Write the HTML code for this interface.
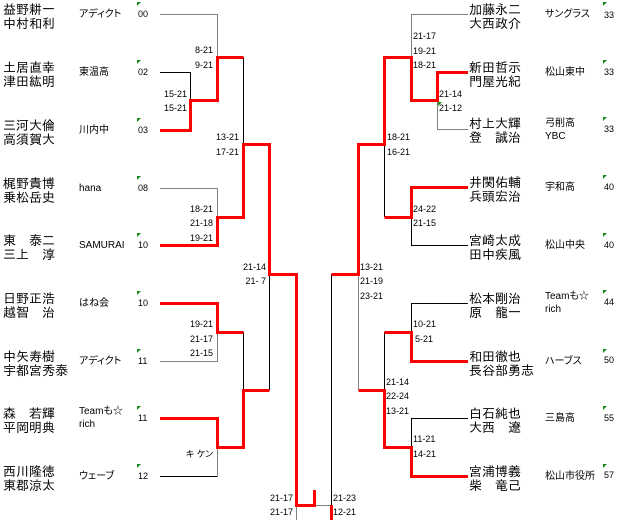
<!DOCTYPE html>
<html><head><meta charset="utf-8">
<style>
html,body{margin:0;padding:0;background:#fff;}
#w{position:relative;width:620px;height:520px;overflow:hidden;background:#fff;font-family:"Liberation Sans","Noto Sans CJK JP",sans-serif;color:#000;}
svg{position:absolute;left:0;top:0;}
.n{position:absolute;font-size:13px;line-height:14px;white-space:nowrap;font-family:"Liberation Sans","IPAGothic","Noto Sans CJK JP",sans-serif;}
.tm{position:absolute;font-size:10px;line-height:13px;white-space:nowrap;font-feature-settings:"palt";}
.s{position:absolute;font-size:9px;line-height:10px;height:10px;white-space:nowrap;font-feature-settings:"palt";}
.r{text-align:right;}
</style></head><body><div id="w">
<svg width="620" height="520" viewBox="0 0 620 520">
<g fill="none" stroke="#808080" stroke-width="1" shape-rendering="crispEdges">
<path d="M160 14.5H217.5V57"/>
<path d="M160 188.5H217.5V217"/>
<path d="M160 361.5H217.5V332"/>
<path d="M217.5 447V476"/>
<path d="M296.5 505V520"/>
<path d="M314 505.5H331"/>
<path d="M468 14.5H411.5V57"/>
<path d="M468 129.5H437.5V100"/>
<path d="M358.5 274V390"/>
</g>
<g fill="none" stroke="#000" stroke-width="1" shape-rendering="crispEdges">
<path d="M160 72.5H190.5V100"/>
<path d="M243.5 57V144"/>
<path d="M269.5 274V390"/>
<path d="M243.5 332V390"/>
<path d="M160 476.5H217.5"/>
<path d="M331.5 274V505"/>
<path d="M384.5 144V217"/>
<path d="M468 245.5H411.5V217"/>
<path d="M468 303.5H411.5V332"/>
<path d="M384.5 332V390"/>
<path d="M468 418.5H411.5V447"/>
</g>
<g fill="none" stroke="#ff0000" stroke-width="3" stroke-linejoin="miter" shape-rendering="crispEdges">
<path d="M160 130.5H190.5V100.5H217.5V57.5H243.5"/>
<path d="M160 245.5H217.5V217.5H243.5V144.5H269.5V274.5H296.5V505.5H314.5V490"/>
<path d="M160 303.5H217.5V332.5H243.5"/>
<path d="M160 418.5H217.5V447.5H243.5V390.5H269.5"/>
<path d="M331.5 505V520"/>
<path d="M468 72.5H437.5V100.5H411.5V57.5H384.5V144.5H358.5V274.5H331.5"/>
<path d="M468 187.5H411.5V217.5H384.5"/>
<path d="M468 361.5H411.5V332.5H384.5"/>
<path d="M468 476.5H411.5V447.5H384.5V390.5H358.5"/>
</g>
<g fill="#1a8a1a">
<polygon points="137,2 141,2 137,6"/>
<polygon points="137,60 141,60 137,64"/>
<polygon points="137,118 141,118 137,122"/>
<polygon points="137,176 141,176 137,180"/>
<polygon points="137,233 141,233 137,237"/>
<polygon points="137,291 141,291 137,295"/>
<polygon points="137,349 141,349 137,353"/>
<polygon points="137,406 141,406 137,410"/>
<polygon points="137,464 141,464 137,468"/>
<polygon points="603,2 607,2 603,6"/>
<polygon points="603,60 607,60 603,64"/>
<polygon points="603,117 607,117 603,121"/>
<polygon points="603,175 607,175 603,179"/>
<polygon points="603,233 607,233 603,237"/>
<polygon points="603,290 607,290 603,294"/>
<polygon points="603,349 607,349 603,353"/>
<polygon points="603,406 607,406 603,410"/>
<polygon points="603,464 607,464 603,468"/>
<polygon points="438,102 442,102 438,106"/>
</g>
</svg>

<!-- Left names -->
<div class="n" style="left:3px;top:2.5px">益野耕一<br>中村和利</div>
<div class="n" style="left:3px;top:60.5px">土居直幸<br>津田紘明</div>
<div class="n" style="left:3px;top:118.5px">三河大倫<br>高須賀大</div>
<div class="n" style="left:3px;top:176.5px">梶野貴博<br>乗松岳史</div>
<div class="n" style="left:3px;top:233.5px">東　泰二<br>三上　淳</div>
<div class="n" style="left:3px;top:291.5px">日野正浩<br>越智　治</div>
<div class="n" style="left:3px;top:349.5px">中矢寿樹<br>宇都宮秀泰</div>
<div class="n" style="left:3px;top:406.5px">森　若輝<br>平岡明典</div>
<div class="n" style="left:3px;top:464.5px">西川隆徳<br>東郡涼太</div>

<!-- Left teams -->
<div class="tm" style="left:79px;top:7.5px">アディクト</div>
<div class="tm" style="left:79px;top:65.5px">東温高</div>
<div class="tm" style="left:79px;top:123.5px">川内中</div>
<div class="tm" style="left:79px;top:181.5px">hana</div>
<div class="tm" style="left:79px;top:238.5px">SAMURAI</div>
<div class="tm" style="left:79px;top:296.5px">はね会</div>
<div class="tm" style="left:79px;top:354.5px">アディクト</div>
<div class="tm" style="left:79px;top:404.5px">Teamも☆<br>rich</div>
<div class="tm" style="left:79px;top:469.5px">ウェーブ</div>

<!-- Left numbers -->
<div class="s" style="left:138px;top:9px">00</div>
<div class="s" style="left:138px;top:67px">02</div>
<div class="s" style="left:138px;top:125px">03</div>
<div class="s" style="left:138px;top:183px">08</div>
<div class="s" style="left:138px;top:240px">10</div>
<div class="s" style="left:138px;top:298px">10</div>
<div class="s" style="left:138px;top:356px">11</div>
<div class="s" style="left:138px;top:413px">11</div>
<div class="s" style="left:138px;top:471px">12</div>

<!-- Right names -->
<div class="n" style="left:469px;top:2.5px">加藤永二<br>大西政介</div>
<div class="n" style="left:469px;top:60.5px">新田哲示<br>門屋光紀</div>
<div class="n" style="left:469px;top:116.5px">村上大輝<br>登　誠治</div>
<div class="n" style="left:469px;top:175.5px">井関佑輔<br>兵頭宏治</div>
<div class="n" style="left:469px;top:233.5px">宮崎太成<br>田中疾風</div>
<div class="n" style="left:469px;top:291.5px">松本剛治<br>原　龍一</div>
<div class="n" style="left:469px;top:349.5px">和田徹也<br>長谷部勇志</div>
<div class="n" style="left:469px;top:406.5px">白石純也<br>大西　遼</div>
<div class="n" style="left:469px;top:464.5px">宮浦博義<br>柴　竜己</div>

<!-- Right teams -->
<div class="tm" style="left:545px;top:7.5px">サングラス</div>
<div class="tm" style="left:545px;top:65.5px">松山東中</div>
<div class="tm" style="left:545px;top:116.5px">弓削高<br>YBC</div>
<div class="tm" style="left:545px;top:180.5px">宇和高</div>
<div class="tm" style="left:545px;top:238.5px">松山中央</div>
<div class="tm" style="left:545px;top:289.5px">Teamも☆<br>rich</div>
<div class="tm" style="left:545px;top:354.5px">ハーブス</div>
<div class="tm" style="left:545px;top:411.5px">三島高</div>
<div class="tm" style="left:545px;top:469.5px">松山市役所</div>

<!-- Right numbers -->
<div class="s" style="left:604px;top:10px">33</div>
<div class="s" style="left:604px;top:67px">33</div>
<div class="s" style="left:604px;top:124px">33</div>
<div class="s" style="left:604px;top:182px">40</div>
<div class="s" style="left:604px;top:240px">40</div>
<div class="s" style="left:604px;top:297px">44</div>
<div class="s" style="left:604px;top:355px">50</div>
<div class="s" style="left:604px;top:413px">55</div>
<div class="s" style="left:604px;top:470px">57</div>

<!-- Left scores (right aligned) -->
<div class="s r" style="right:407px;top:45px">8-21</div>
<div class="s r" style="right:407px;top:60px">9-21</div>
<div class="s r" style="right:433px;top:89px">15-21</div>
<div class="s r" style="right:433px;top:103px">15-21</div>
<div class="s r" style="right:381px;top:132px">13-21</div>
<div class="s r" style="right:381px;top:147px">17-21</div>
<div class="s r" style="right:407px;top:204px">18-21</div>
<div class="s r" style="right:407px;top:218px">21-18</div>
<div class="s r" style="right:407px;top:233px">19-21</div>
<div class="s r" style="right:354px;top:262px">21-14</div>
<div class="s r" style="right:354px;top:276px">21- 7</div>
<div class="s r" style="right:407px;top:319px">19-21</div>
<div class="s r" style="right:407px;top:334px">21-17</div>
<div class="s r" style="right:407px;top:348px">21-15</div>
<div class="s r" style="right:407px;top:449px">キ ケン</div>
<div class="s r" style="right:327px;top:493px">21-17</div>
<div class="s r" style="right:327px;top:507px">21-17</div>

<!-- Right scores -->
<div class="s" style="left:413px;top:31px">21-17</div>
<div class="s" style="left:413px;top:46px">19-21</div>
<div class="s" style="left:413px;top:60px">18-21</div>
<div class="s" style="left:439px;top:89px">21-14</div>
<div class="s" style="left:439px;top:103px">21-12</div>
<div class="s" style="left:387px;top:132px">18-21</div>
<div class="s" style="left:387px;top:147px">16-21</div>
<div class="s" style="left:413px;top:204px">24-22</div>
<div class="s" style="left:413px;top:218px">21-15</div>
<div class="s" style="left:360px;top:262px">13-21</div>
<div class="s" style="left:360px;top:276px">21-19</div>
<div class="s" style="left:360px;top:291px">23-21</div>
<div class="s" style="left:413px;top:319px">10-21</div>
<div class="s" style="left:415px;top:334px">5-21</div>
<div class="s" style="left:386px;top:377px">21-14</div>
<div class="s" style="left:386px;top:391px">22-24</div>
<div class="s" style="left:386px;top:406px">13-21</div>
<div class="s" style="left:413px;top:434px">11-21</div>
<div class="s" style="left:413px;top:449px">14-21</div>
<div class="s" style="left:333px;top:493px">21-23</div>
<div class="s" style="left:333px;top:507px">12-21</div>
</div></body></html>
